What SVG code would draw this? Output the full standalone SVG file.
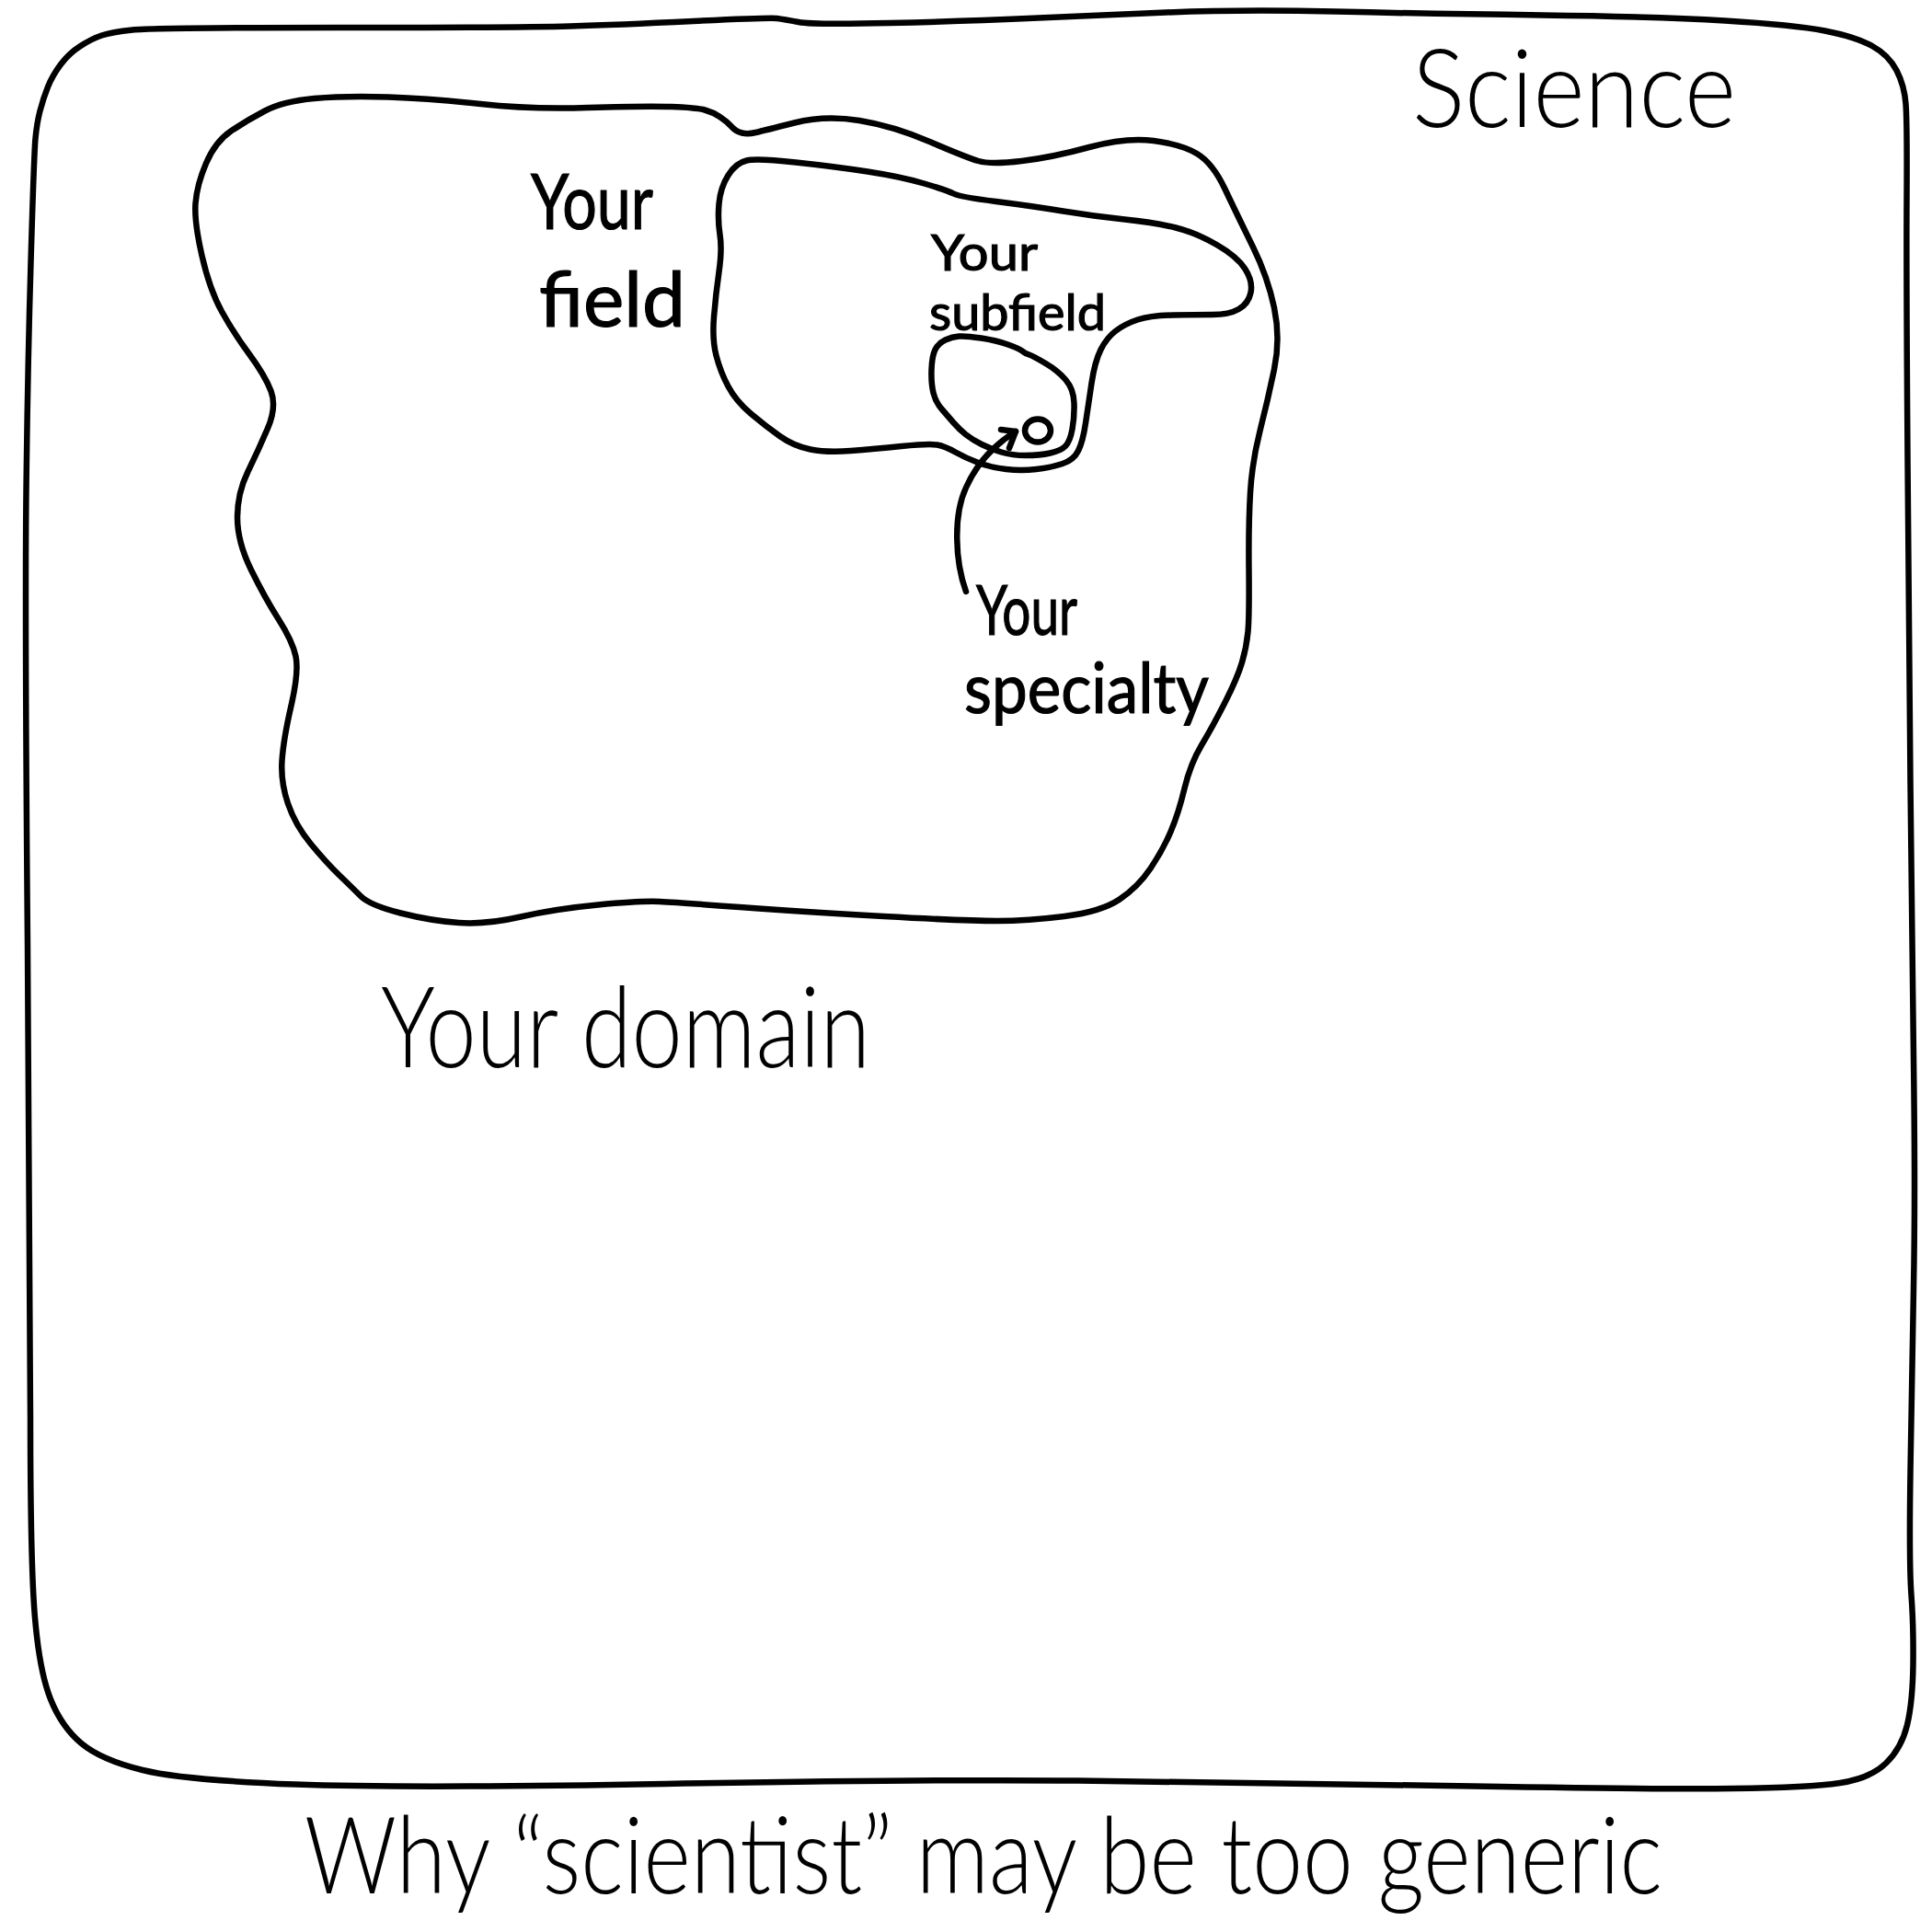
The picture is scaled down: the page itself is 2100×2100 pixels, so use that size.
<svg xmlns="http://www.w3.org/2000/svg" width="2100" height="2100" viewBox="0 0 2100 2100">
<style>
.ln{fill:none;stroke:#000;stroke-width:6.5;stroke-linecap:round;stroke-linejoin:round}
.t{font-family:Lato,"Liberation Sans",Arial,sans-serif;font-weight:400;fill:#000}
.big{font-family:Lato,"Liberation Sans",Arial,sans-serif;font-weight:300;fill:#000}
.lbl{stroke:#000;stroke-width:1.2}
</style>
<rect width="2100" height="2100" fill="#fff"/>
<g id="science">
<path class="ln" d="M144,32.5 Q167,30 368,30 Q569,30 619.5,28.5 Q670,27 753.5,23 Q837,19 844.5,20 Q852,21 868,24 Q884,27 967,25 Q1050,23 1117,20 Q1184,17 1267.5,13.5 Q1351,10 1451.5,12.5 Q1552,15 1676,16.5 Q1800,18 1875,22.5 Q1950,27 1983.5,33.5 Q2017,40 2035,50 Q2053,60 2061.5,76.5 Q2070,93 2071.5,113 Q2073,133 2072.5,216.5 Q2072,300 2073.5,500 Q2075,700 2076.5,850 Q2078,1000 2080,1150 Q2082,1300 2080,1400 Q2078,1500 2076.5,1600 Q2075,1700 2077.5,1733.5 Q2080,1767 2079.5,1808.5 Q2079,1850 2073,1875 Q2067,1900 2050,1916.5 Q2033,1933 2000,1938 Q1967,1943 1883.5,1944 Q1800,1945 1569.5,1941 Q1339,1937 1171.5,1935.5 Q1004,1934 723,1939 Q442,1944 321,1939.5 Q200,1935 155,1924 Q110,1913 88.5,1895 Q67,1877 55,1847 Q43,1817 38,1758.5 Q33,1700 33,1542.5 Q33,1385 30,1027.5 Q27,670 28.5,536 Q30,402 33.5,284.5 Q37,167 38.5,150.5 Q40,134 43.5,120.5 Q47,107 52,94.5 Q57,82 66,70 Q75,58 87.5,50 Q100,42 110.5,38.5 Q121,35 144,32.5 Z"/>
<text class="big" x="1535" y="138" font-size="118" textLength="352" lengthAdjust="spacingAndGlyphs">Science</text>
</g>
<g id="domain">
<path class="ln" d="M288,120.5 Q308,110 341.5,107 Q375,104 422,105.5 Q469,107 522.5,113 Q576,119 639.5,117 Q703,115 730,116 Q757,117 766,119.5 Q775,122 782.5,127 Q790,132 795,137.5 Q800,143 806.5,144.5 Q813,146 821.5,144 Q830,142 863.5,133.5 Q897,125 934,131 Q971,137 1010.5,154 Q1050,171 1063.5,175 Q1077,179 1110.5,175 Q1144,171 1184,160 Q1224,149 1254,153 Q1284,157 1301,167 Q1318,177 1331.5,205.5 Q1345,234 1361.5,267.5 Q1378,301 1385,334.5 Q1392,368 1385,401.5 Q1378,435 1369.5,468.5 Q1361,502 1359,535.5 Q1357,569 1357.5,619.5 Q1358,670 1356.5,686.5 Q1355,703 1350,720 Q1345,737 1331.5,763.5 Q1318,790 1306,810 Q1294,830 1287.5,857 Q1281,884 1272.5,904 Q1264,924 1250.5,944 Q1237,964 1217,977.5 Q1197,991 1157,996 Q1117,1001 1083.5,1001 Q1050,1001 960.5,996 Q871,991 804,986 Q737,981 717,980 Q697,979 650,983.5 Q603,988 566,996.5 Q529,1005 499,1003 Q469,1001 435.5,992.5 Q402,984 392,974 Q382,964 368.5,951 Q355,938 338,917.5 Q321,897 313,873.5 Q305,850 306.5,827 Q308,804 316.5,767 Q325,730 321.5,713.5 Q318,697 303,673.5 Q288,650 273,619.5 Q258,589 258,562.5 Q258,536 269.5,512.5 Q281,489 291,465.5 Q301,442 294.5,425 Q288,408 271,385 Q254,362 241,338.5 Q228,315 219.5,278 Q211,241 212.5,221 Q214,201 224,177.5 Q234,154 251,142.5 Q268,131 288,120.5 Z"/>
<text class="big" x="414" y="1160" font-size="122" textLength="532" lengthAdjust="spacingAndGlyphs">Your domain</text>
</g>
<g id="field">
<path class="ln" d="M791.5,190.5 Q800,177 811.5,174.5 Q823,172 865,176.5 Q907,181 943,186.5 Q979,192 1004.5,199.5 Q1030,207 1036.5,210.5 Q1043,214 1082.5,219 Q1122,224 1155.5,229.5 Q1189,235 1222.5,238.5 Q1256,242 1278,247.5 Q1300,253 1322.5,266 Q1345,279 1353.5,292.5 Q1362,306 1359.5,318 Q1357,330 1346.5,336 Q1336,342 1318,342 Q1300,342 1275,342.5 Q1250,343 1236.5,347.5 Q1223,352 1213,359.5 Q1203,367 1196.5,380 Q1190,393 1186.5,416.5 Q1183,440 1180,460 Q1177,480 1172,490 Q1167,500 1155,504 Q1143,508 1126.5,510 Q1110,512 1093.5,510 Q1077,508 1063.5,503 Q1050,498 1038.5,491.5 Q1027,485 1018.5,483.5 Q1010,482 980,485 Q950,488 924.5,490 Q899,492 881,488.5 Q863,485 847.5,474 Q832,463 816,449.5 Q800,436 791.5,420 Q783,404 778.5,386.5 Q774,369 776,344.5 Q778,320 781.5,295.5 Q785,271 782.5,255 Q780,239 781.5,221.5 Q783,204 791.5,190.5 Z"/>
<text class="t lbl" x="577" y="249" font-size="84" textLength="133" lengthAdjust="spacingAndGlyphs">Your</text>
<text class="t lbl" x="586" y="355" font-size="84" textLength="159" lengthAdjust="spacingAndGlyphs">field</text>
</g>
<g id="subfield">
<path class="ln" d="M1016.5,380 Q1020,373 1027.5,369.5 Q1035,366 1042.5,365.5 Q1050,365 1066.5,367.5 Q1083,370 1095.5,374.5 Q1108,379 1111,381.5 Q1114,384 1118.5,385.5 Q1123,387 1136.5,395 Q1150,403 1158.5,413 Q1167,423 1167.5,438 Q1168,453 1165.5,466.5 Q1163,480 1158,485 Q1153,490 1141.5,492.5 Q1130,495 1115,495 Q1100,495 1088.5,491.5 Q1077,488 1067,483 Q1057,478 1050,472.5 Q1043,467 1036.5,459.5 Q1030,452 1023.5,444.5 Q1017,437 1014.5,427 Q1012,417 1012.5,402 Q1013,387 1016.5,380 Z"/>
<text class="t lbl" x="1012" y="294" font-size="54" textLength="116" lengthAdjust="spacingAndGlyphs">Your</text>
<text class="t lbl" x="1010" y="359" font-size="54" textLength="192" lengthAdjust="spacingAndGlyphs">subfield</text>
</g>
<g id="specialty">
<ellipse class="ln" cx="1128" cy="468" rx="14" ry="12.5"/>
<text class="t lbl" x="1061" y="690" font-size="76" textLength="110" lengthAdjust="spacingAndGlyphs">Your</text>
<text class="t lbl" x="1048" y="775" font-size="76" textLength="266" lengthAdjust="spacingAndGlyphs">specialty</text>
</g>
<g id="connectors">
<path class="ln" d="M1050,643 C1038,610 1036,560 1050,530 C1062,503 1080,484 1104,469"/>
<path class="ln" d="M1088,467 L1104,469 L1097,487"/>
</g>
<g id="caption">
<text class="big" x="331" y="2058" font-size="116" textLength="1476" lengthAdjust="spacingAndGlyphs">Why “scientist” may be too generic</text>
</g>
</svg>
